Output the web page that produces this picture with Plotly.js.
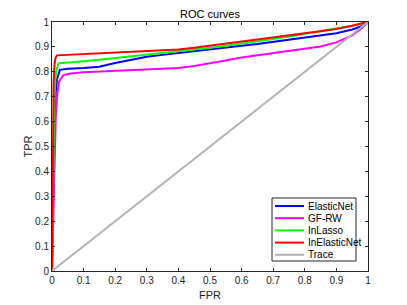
<!DOCTYPE html>
<html><head><meta charset="utf-8">
<script src="https://cdn.plot.ly/plotly-3.0.1.min.js"></script>
<style>html,body{margin:0;padding:0;background:#fff}#c{width:407px;height:305px}</style>
</head><body><div id="c"></div>
<script>
const names = ["ElasticNet", "GF-RW", "InLasso", "InElasticNet", "Trace"];
const colors = ["#0000ff", "#ff00ff", "#00ff00", "#ff0000", "#b3b3b3"];

const elasticFpr = [0, 0.003, 0.008, 0.012, 0.016, 0.025, 0.05, 0.1, 0.15, 0.2, 0.25, 0.3, 0.35, 0.4, 0.45, 0.5, 0.55, 0.6, 0.65, 0.7, 0.75, 0.8, 0.85, 0.9, 0.95, 0.98, 1];
const elasticTpr = [0, 0.3, 0.6, 0.72, 0.77, 0.808, 0.812, 0.815, 0.82, 0.835, 0.847, 0.86, 0.868, 0.876, 0.883, 0.891, 0.897, 0.905, 0.912, 0.92, 0.928, 0.936, 0.945, 0.955, 0.97, 0.983, 1];

const gfFpr = [0, 0.004, 0.008, 0.012, 0.016, 0.022, 0.036, 0.06, 0.1, 0.2, 0.3, 0.35, 0.4, 0.45, 0.5, 0.55, 0.6, 0.65, 0.7, 0.75, 0.8, 0.85, 0.9, 0.95, 0.98, 1];
const gfTpr = [0, 0.2, 0.45, 0.62, 0.7, 0.76, 0.787, 0.793, 0.798, 0.803, 0.808, 0.811, 0.815, 0.823, 0.833, 0.845, 0.857, 0.866, 0.876, 0.885, 0.892, 0.902, 0.918, 0.946, 0.975, 1];

const lassoFpr = [0, 0.003, 0.007, 0.01, 0.013, 0.02, 0.05, 0.1, 0.15, 0.2, 0.25, 0.3, 0.35, 0.4, 0.45, 0.5, 0.55, 0.6, 0.65, 0.7, 0.75, 0.8, 0.85, 0.9, 0.95, 1];
const lassoTpr = [0, 0.35, 0.65, 0.75, 0.8, 0.834, 0.838, 0.842, 0.848, 0.855, 0.862, 0.868, 0.874, 0.88, 0.888, 0.897, 0.905, 0.913, 0.922, 0.932, 0.942, 0.952, 0.962, 0.973, 0.985, 1];

const inElasticFpr = [0, 0.002, 0.005, 0.008, 0.011, 0.016, 0.05, 0.1, 0.15, 0.2, 0.25, 0.3, 0.35, 0.4, 0.45, 0.5, 0.55, 0.6, 0.65, 0.7, 0.75, 0.8, 0.85, 0.9, 0.95, 1];
const inElasticTpr = [0, 0.4, 0.75, 0.83, 0.855, 0.866, 0.868, 0.871, 0.873, 0.876, 0.879, 0.882, 0.885, 0.89, 0.897, 0.905, 0.912, 0.92, 0.93, 0.938, 0.946, 0.955, 0.963, 0.972, 0.985, 1];

const traceFpr = [0, 1];
const traceTpr = [0, 1];

const tickVals = [0, 0.1, 0.2, 0.3, 0.4, 0.5, 0.6, 0.7, 0.8, 0.9, 1];
const tickText = ["0", "0.1", "0.2", "0.3", "0.4", "0.5", "0.6", "0.7", "0.8", "0.9", "1"];

const xs = [elasticFpr, gfFpr, lassoFpr, inElasticFpr, traceFpr];
const ys = [elasticTpr, gfTpr, lassoTpr, inElasticTpr, traceTpr];

const data = names.map((n, i) => ({
  x: xs[i], y: ys[i], name: n, type: 'scatter', mode: 'lines',
  line: {color: colors[i], width: 2}, showlegend: false
}));

const FONT = 'Liberation Sans, Arial, sans-serif';
const axisCommon = {
  range: [0, 1], tickvals: tickVals, ticktext: tickText,
  ticks: 'inside', ticklen: 3, tickwidth: 1, tickcolor: '#262626',
  showline: true, linecolor: '#262626', linewidth: 1, mirror: 'ticks',
  showgrid: false, zeroline: false,
  tickfont: {family: FONT, size: 10, color: '#262626'}
};

// Custom compact legend (MATLAB style), placed in paper coordinates
const M = {l: 52, r: 39, t: 22, b: 34};
const PW = 407 - M.l - M.r, PH = 305 - M.t - M.b;
const px = v => (v - M.l) / PW;
const py = v => (305 - M.b - v) / PH;
const legBox = {x0: 272, x1: 356, y0: 198, y1: 261};
const rowY0 = 206, rowStep = 12.2;
const shapes = [{type: 'rect', xref: 'paper', yref: 'paper',
  x0: px(legBox.x0), x1: px(legBox.x1), y0: py(legBox.y1), y1: py(legBox.y0),
  fillcolor: '#fff', line: {color: '#262626', width: 1}, layer: 'above'}];
const annotations = [];
names.forEach((n, i) => {
  const yy = py(rowY0 + i * rowStep);
  shapes.push({type: 'line', xref: 'paper', yref: 'paper',
    x0: px(275), x1: px(304), y0: yy, y1: yy, line: {color: colors[i], width: 2}, layer: 'above'});
  annotations.push({xref: 'paper', yref: 'paper', x: px(306), y: yy, xanchor: 'left', yanchor: 'middle',
    text: n, showarrow: false, font: {family: FONT, size: 10, color: '#000'}});
});

const layout = {
  width: 407, height: 305,
  margin: M,
  paper_bgcolor: '#fff', plot_bgcolor: '#fff',
  title: {text: 'ROC curves', x: 0.5, xanchor: 'center', xref: 'paper', y: 0.955, yanchor: 'middle',
    font: {family: FONT, size: 11, color: '#000'}},
  xaxis: Object.assign({}, axisCommon, {title: {text: 'FPR', standoff: 6,
    font: {family: FONT, size: 11, color: '#262626'}}}),
  yaxis: Object.assign({}, axisCommon, {title: {text: 'TPR', standoff: 0,
    font: {family: FONT, size: 11, color: '#262626'}}}),
  showlegend: false,
  shapes: shapes,
  annotations: annotations
};

Plotly.newPlot('c', data, layout, {displayModeBar: false, staticPlot: true});
</script></body></html>
